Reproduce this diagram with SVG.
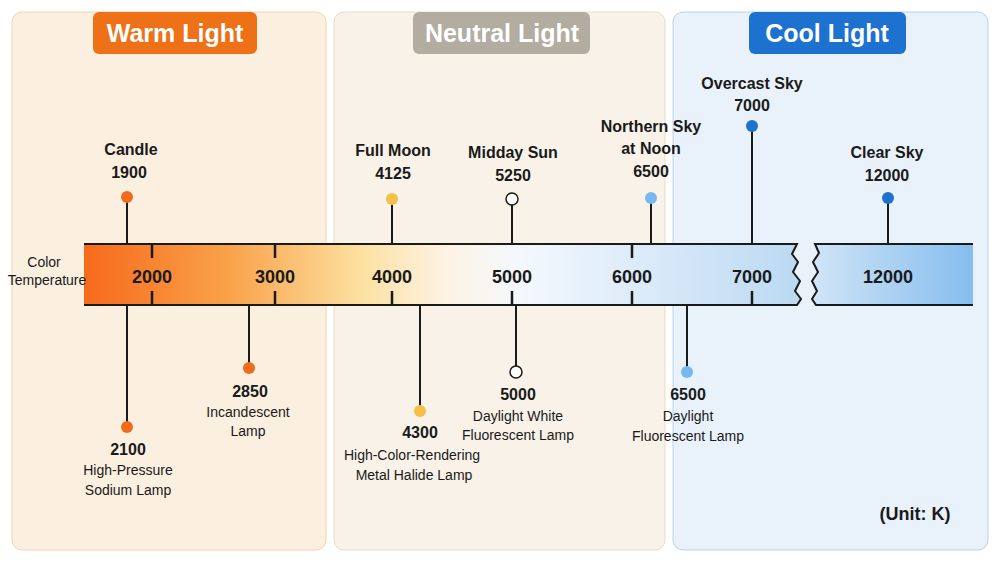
<svg xmlns="http://www.w3.org/2000/svg" width="1000" height="562" viewBox="0 0 1000 562">
<style>
text{font-family:"Liberation Sans",Arial,sans-serif;fill:#1a1a1a;text-anchor:middle}
.h{font-size:25px;font-weight:bold;fill:#fff}
.l{font-size:16px;font-weight:bold}
.s{font-size:14px}
.t{font-size:18px;font-weight:bold}
.c{stroke:#1a1a1a;stroke-width:2;fill:none}
.tk{stroke:#1a1a1a;stroke-width:2.5}
</style>
<defs>
<linearGradient id="g1" x1="84" x2="810" y1="0" y2="0" gradientUnits="userSpaceOnUse">
<stop offset="0" stop-color="#f76a1c"/><stop offset="0.2" stop-color="#f9a24a"/><stop offset="0.38" stop-color="#fce0a0"/><stop offset="0.5" stop-color="#fdf3e4"/><stop offset="0.6" stop-color="#f4f8fd"/><stop offset="1" stop-color="#b9d8f3"/>
</linearGradient>
<linearGradient id="g2" x1="815" x2="973" y1="0" y2="0" gradientUnits="userSpaceOnUse">
<stop offset="0" stop-color="#cfe4f7"/><stop offset="1" stop-color="#85bdee"/>
</linearGradient>
</defs>
<rect width="1000" height="562" fill="#fff"/>
<g id="panel-warm"><rect x="12" y="12" width="314" height="538" rx="10" fill="#fbefe0" stroke="#f0d6b4"/><rect x="93" y="12" width="164" height="42" rx="6" fill="#ee7118"/><text class="h" x="175" y="42">Warm Light</text></g>
<g id="panel-neutral"><rect x="334" y="12" width="331" height="538" rx="10" fill="#f8f2e8" stroke="#e6dccb"/><rect x="413" y="12" width="177" height="42" rx="6" fill="#b3aca1"/><text class="h" x="502" y="42">Neutral Light</text></g>
<g id="panel-cool"><rect x="673" y="12" width="315" height="538" rx="10" fill="#e9f1fb" stroke="#b8d2ee"/><rect x="749" y="12" width="157" height="42" rx="6" fill="#1d72d0"/><text class="h" x="827" y="42">Cool Light</text></g>
<g id="bar">
<path d="M84 244H797l-5 10 6 8-5 10 7 9-5 10 6 8-4 6H84Z" fill="url(#g1)"/>
<path d="M84 244H797l-5 10 6 8-5 10 7 9-5 10 6 8-4 6H84" class="c" stroke-width="2.5"/>
<path d="M973 244H815l4 9-6 9 5 10-6 9 5 10-5 8 4 6H973Z" fill="url(#g2)"/>
<path d="M973 244H815l4 9-6 9 5 10-6 9 5 10-5 8 4 6H973" class="c" stroke-width="2.5"/>
<g class="tk"><path d="M152 244v14M152 305v-14M275 244v14M275 305v-14M392 305v-14M512 305v-14M632 244v14M632 305v-14M752 305v-14"/></g>
<g class="t"><text x="152" y="283">2000</text><text x="275" y="283">3000</text><text x="392" y="283">4000</text><text x="512" y="283">5000</text><text x="632" y="283">6000</text><text x="752" y="283">7000</text><text x="888" y="283">12000</text></g>
<text class="s" x="44" y="267">Color</text><text class="s" x="47" y="285">Temperature</text>
</g>
<g id="connectors" class="c">
<path d="M127 197v47M127 305v122M249 305v63M392 199v45M420 305v106M512 199v45M516 305v67M651 198v46M687 305v67M752 126v118M888 198v46"/>
</g>
<g id="candle"><circle cx="127" cy="197" r="6" fill="#ee6c1c"/><text class="l" x="131" y="155">Candle</text><text class="l" x="129" y="178">1900</text></g>
<g id="sodium"><circle cx="127" cy="427" r="6" fill="#ee6c1c"/><text class="l" x="128" y="455">2100</text><text class="s" x="128" y="475">High-Pressure</text><text class="s" x="128" y="495">Sodium Lamp</text></g>
<g id="incandescent"><circle cx="249" cy="368" r="6" fill="#ee6c1c"/><text class="l" x="250" y="397">2850</text><text class="s" x="248" y="417">Incandescent</text><text class="s" x="248" y="436">Lamp</text></g>
<g id="fullmoon"><circle cx="392" cy="199" r="6" fill="#f5c04a"/><text class="l" x="393" y="156">Full Moon</text><text class="l" x="393" y="179">4125</text></g>
<g id="metalhalide"><circle cx="420" cy="411" r="6" fill="#f5c04a"/><text class="l" x="420" y="438">4300</text><text class="s" x="412" y="460">High-Color-Rendering</text><text class="s" x="414" y="480">Metal Halide Lamp</text></g>
<g id="middaysun"><circle cx="512" cy="199" r="6" fill="#fff" stroke="#1a1a1a" stroke-width="1.5"/><text class="l" x="513" y="158">Midday Sun</text><text class="l" x="513" y="181">5250</text></g>
<g id="daylightwhite"><circle cx="516" cy="372" r="6" fill="#fff" stroke="#1a1a1a" stroke-width="1.5"/><text class="l" x="518" y="400">5000</text><text class="s" x="518" y="421">Daylight White</text><text class="s" x="518" y="440">Fluorescent Lamp</text></g>
<g id="northernsky"><circle cx="651" cy="198" r="6" fill="#79b8ee"/><text class="l" x="651" y="132">Northern Sky</text><text class="l" x="651" y="154">at Noon</text><text class="l" x="651" y="177">6500</text></g>
<g id="daylightfl"><circle cx="687" cy="372" r="6" fill="#79b8ee"/><text class="l" x="688" y="400">6500</text><text class="s" x="688" y="421">Daylight</text><text class="s" x="688" y="441">Fluorescent Lamp</text></g>
<g id="overcast"><circle cx="752" cy="126" r="6" fill="#1d72d0"/><text class="l" x="752" y="89">Overcast Sky</text><text class="l" x="752" y="111">7000</text></g>
<g id="clearsky"><circle cx="888" cy="198" r="6" fill="#1d72d0"/><text class="l" x="887" y="158">Clear Sky</text><text class="l" x="887" y="181">12000</text></g>
<text class="t" x="915" y="520">(Unit:  K)</text>
</svg>
